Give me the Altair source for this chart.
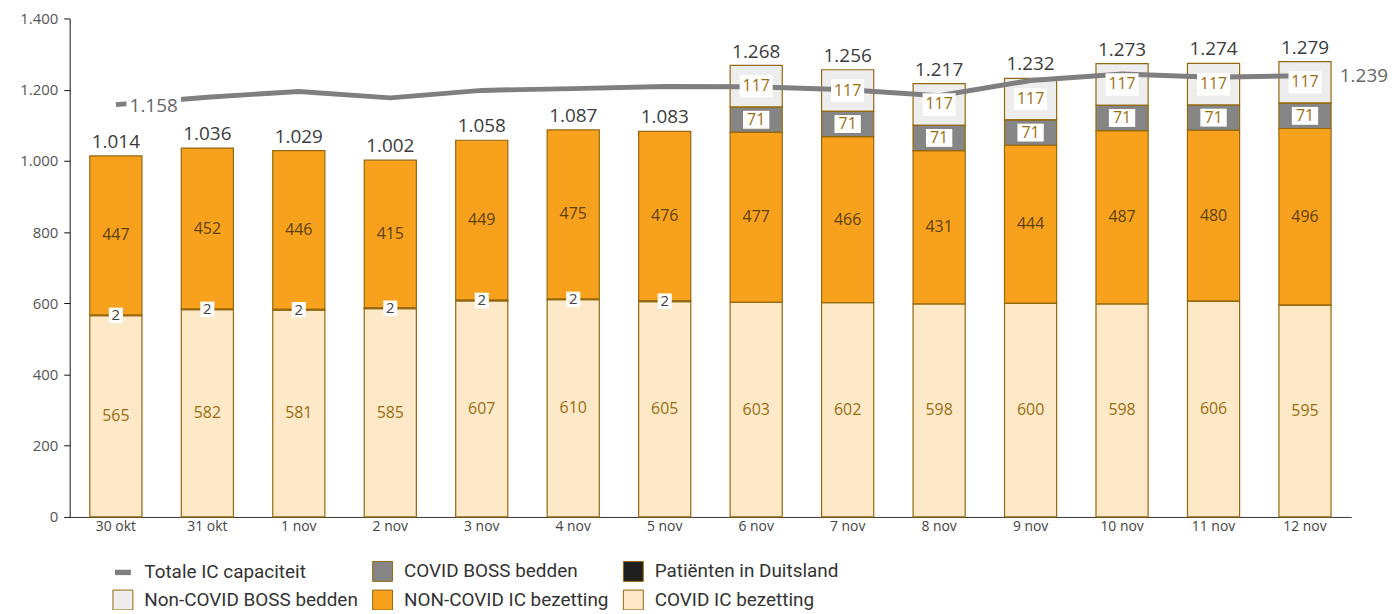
import altair as alt
import pandas as pd

# ---------------- data ----------------
dates = ["30 okt", "31 okt", "1 nov", "2 nov", "3 nov", "4 nov", "5 nov",
         "6 nov", "7 nov", "8 nov", "9 nov", "10 nov", "11 nov", "12 nov"]
covid_ic = [565, 582, 581, 585, 607, 610, 605, 603, 602, 598, 600, 598, 606, 595]
duitsland = [2, 2, 2, 2, 2, 2, 2, 0, 0, 0, 0, 0, 0, 0]
noncovid_ic = [447, 452, 446, 415, 449, 475, 476, 477, 466, 431, 444, 487, 480, 496]
covid_boss = [0, 0, 0, 0, 0, 0, 0, 71, 71, 71, 71, 71, 71, 71]
noncovid_boss = [0, 0, 0, 0, 0, 0, 0, 117, 117, 117, 117, 117, 117, 117]
capaciteit = [1158, 1179, 1195, 1177, 1198, 1203, 1209, 1208, 1200, 1183, 1226, 1244, 1235, 1239]

series_names = ["Totale IC capaciteit", "COVID BOSS bedden", "Patiënten in Duitsland",
                "Non-COVID BOSS bedden", "NON-COVID IC bezetting", "COVID IC bezetting"]
series_colors = ["#7f7f7f", "#858585", "#1e1e1e", "#ededed", "#f8a11c", "#fde8c8"]
y_ticks = [0, 200, 400, 600, 800, 1000, 1200, 1400]

NUM_FONT = "Open Sans"
LEG_FONT = "Roboto"


def dutch(v):
    return f"{v:,}".replace(",", ".")


# stacked segments, bottom to top
stack_series = [
    ("COVID IC bezetting", covid_ic),
    ("Patiënten in Duitsland", duitsland),
    ("NON-COVID IC bezetting", noncovid_ic),
    ("COVID BOSS bedden", covid_boss),
    ("Non-COVID BOSS bedden", noncovid_boss),
]
bar_rows = []
for i, d in enumerate(dates):
    for k, (name, vals) in enumerate(stack_series):
        if vals[i] > 0:
            bar_rows.append({"date": d, "serie": name, "value": vals[i], "ord": k})
bars_df = pd.DataFrame(bar_rows)

lab_rows = []
for i, d in enumerate(dates):
    c, g, n, cb, nb = covid_ic[i], duitsland[i], noncovid_ic[i], covid_boss[i], noncovid_boss[i]
    lab_rows.append({"date": d, "kind": "covid", "pos": c / 2, "txt": str(c)})
    if g > 0:
        lab_rows.append({"date": d, "kind": "duits", "pos": c + g / 2, "txt": str(g)})
    lab_rows.append({"date": d, "kind": "noncovid", "pos": c + g + n / 2, "txt": str(n)})
    if cb > 0:
        lab_rows.append({"date": d, "kind": "cboss", "pos": c + g + n + cb / 2, "txt": str(cb)})
    if nb > 0:
        lab_rows.append({"date": d, "kind": "nboss", "pos": c + g + n + cb + nb / 2, "txt": str(nb)})
    tot = c + g + n + cb + nb
    lab_rows.append({"date": d, "kind": "total", "pos": tot, "txt": dutch(tot)})
lab_df = pd.DataFrame(lab_rows)

line_df = pd.DataFrame({"date": dates, "cap": capaciteit,
                        "txt": [dutch(v) for v in capaciteit]})

# ---------------- encodings ----------------
y_scale = alt.Scale(domain=[0, 1400], nice=False)
y_axis = alt.Axis(title=None, values=y_ticks, grid=False, domainColor="#111",
                  tickColor="#111", tickSize=6, labelFont=NUM_FONT, labelFontSize=15,
                  labelColor="#555", labelPadding=6,
                  labelExpr="replace(format(datum.value, ','), ',', '.')")
x_axis = alt.Axis(title=None, labelAngle=0, ticks=False, domainColor="#333",
                  domainWidth=1, labelFont=NUM_FONT, labelFontSize=14,
                  labelColor="#444", labelPadding=3)
x_enc = alt.X("date:N", sort=dates,
              scale=alt.Scale(paddingInner=0.43, paddingOuter=0.22), axis=x_axis)


def y_enc(field, **kw):
    return alt.Y(field, scale=y_scale, axis=y_axis, **kw)


legend = alt.Legend(
    title=None, orient="none", legendX=43, legendY=545, direction="horizontal",
    columns=3, columnPadding=12, rowPadding=4, padding=0,
    symbolType={"expr": "datum.value == 'Totale IC capaciteit' ? 'M-0.8,-0.27H0.8V0.27H-0.8Z' : 'square'"},
    symbolStrokeColor={"expr": "datum.value == 'Totale IC capaciteit' ? 'transparent' : '#94680f'"},
    symbolStrokeWidth=1, symbolSize=400, symbolOpacity=1,
    labelFont=LEG_FONT, labelFontSize=19, labelColor="#333", labelOffset=11, labelLimit=0,
)

bars_fill = alt.Chart(bars_df).mark_bar().encode(
    x=x_enc,
    y=y_enc("value:Q", stack="zero"),
    color=alt.Color("serie:N", scale=alt.Scale(domain=series_names, range=series_colors),
                    legend=legend),
    order=alt.Order("ord:Q"),
)

bars_stroke = alt.Chart(bars_df).mark_bar(fill="transparent", stroke="#94680f", strokeWidth=1.2).encode(
    x=x_enc,
    y=y_enc("value:Q", stack="zero"),
    order=alt.Order("ord:Q"),
)

cap_line = alt.Chart(line_df).mark_line(color="#7f7f7f", strokeWidth=5).encode(
    x=x_enc, y=y_enc("cap:Q"))

BOX_WIDE = "M-1,-0.68H1V0.68H-1Z"
BOX_SQ = "M-1,-1.1H1V1.1H-1Z"


def box_layer(kind, shape, size):
    return alt.Chart(lab_df).transform_filter(alt.datum.kind == kind).mark_point(
        shape=shape, size=size, filled=True, color="white", opacity=1, strokeWidth=0
    ).encode(x=x_enc, y=y_enc("pos:Q"))


def text_layer(kind, color, size, dy=0, baseline="middle"):
    return alt.Chart(lab_df).transform_filter(alt.datum.kind == kind).mark_text(
        font=NUM_FONT, fontSize=size, color=color, dy=dy, baseline=baseline
    ).encode(x=x_enc, y=y_enc("pos:Q"), text="txt:N")


first_box = alt.Chart(line_df).transform_filter(alt.datum.date == dates[0]).mark_point(
    shape=BOX_WIDE, size=3000, filled=True, color="white", opacity=1, strokeWidth=0, xOffset=38
).encode(x=x_enc, y=y_enc("cap:Q"))
first_lab = alt.Chart(line_df).transform_filter(alt.datum.date == dates[0]).mark_text(
    font=NUM_FONT, fontSize=19, color="#666", dx=38, dy=1
).encode(x=x_enc, y=y_enc("cap:Q"), text="txt:N")
last_lab = alt.Chart(line_df).transform_filter(alt.datum.date == dates[-1]).mark_text(
    font=NUM_FONT, fontSize=19, color="#666", dx=35, align="left"
).encode(x=x_enc, y=y_enc("cap:Q"), text="txt:N")

chart = alt.layer(
    bars_fill, bars_stroke, cap_line,
    box_layer("duits", BOX_SQ, 200),
    box_layer("cboss", BOX_WIDE, 700),
    box_layer("nboss", BOX_WIDE, 1100),
    first_box,
    text_layer("covid", "#9a6e10", 16),
    text_layer("noncovid", "#5e4214", 16),
    text_layer("duits", "#444", 15),
    text_layer("cboss", "#9a6e10", 16),
    text_layer("nboss", "#9a6e10", 16),
    text_layer("total", "#3c3c3c", 19, dy=-4, baseline="bottom"),
    first_lab, last_lab,
).properties(
    width=1288, height=501,
    autosize=alt.AutoSizeParams(type="none"),
    padding={"left": 62, "top": 9, "right": 38, "bottom": 92},
).configure_view(stroke=None).configure_axis(domainWidth=1)

chart.save("out.html", embed_options={"renderer": "svg", "actions": False})
